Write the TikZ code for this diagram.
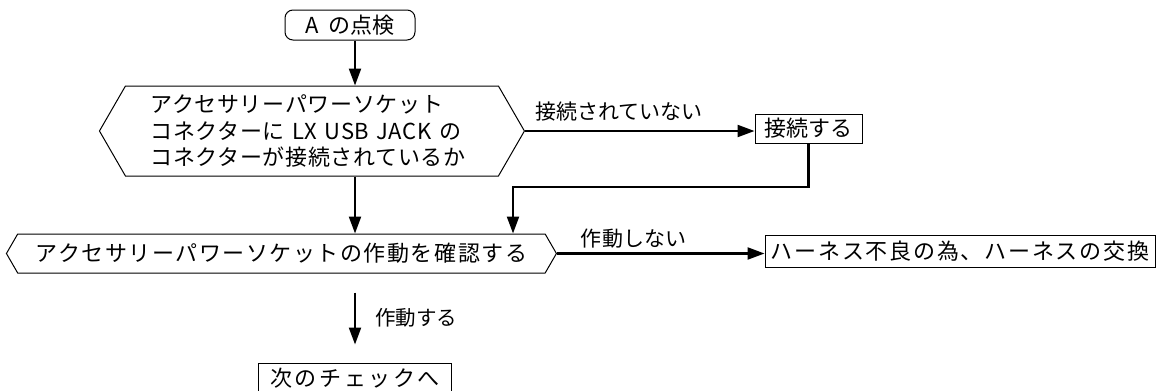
\documentclass[tikz,border=0pt]{standalone}
\usepackage{fontspec}
\newfontfamily\jpfont{Noto Sans CJK JP}
\usetikzlibrary{arrows.meta,shapes.symbols}
\def\jp#1#2{\jpfont\fontsize{#1}{26.5}\selectfont\addfontfeature{LetterSpace=#2}}
\tikzset{
	box/.style={draw, line width=1pt, inner sep=0pt},
	hexa/.style={signal, signal to=east and west, signal pointer angle=120, draw, line width=1pt, inner ysep=0pt},
	flow/.style={line width=2.2pt, -{Triangle[length=17pt,width=12pt]}},
}

\begin{document}
\begin{tikzpicture}[x=1pt,y=-1pt]
			%%%%% START %%%%%
			\useasboundingbox (0,0) rectangle (1160,391);
			
			\node[box, rounded corners=8pt, minimum width=130pt, minimum height=30pt, font=\jp{22}{0}] (start) at (350,25) {A\hspace{9pt}の点検};
			\node[hexa, anchor=east, text width=323pt, inner xsep=25pt, minimum height=90pt, align=left, font=\jp{22}{3}] (q1) at (525,131) {アクセサリーパワーソケット\\コネクターに LX USB JACK の\\コネクターが接続されているか};
			\node[box, minimum width=107pt, minimum height=29pt, font=\jp{22}{0}] (fix) at (808.5,128.5) {接続する};
			\node[hexa, anchor=east, inner xsep=18pt, minimum height=39pt, font=\jp{22}{7}] (q2) at (557,253.5) {アクセサリーパワーソケットの作動を確認する};
			\node[box, minimum width=390pt, minimum height=32pt, font=\jp{22}{8}] (ng) at (960,251) {ハーネス不良の為、ハーネスの交換};
			\node[box, minimum width=193pt, minimum height=30pt, font=\jp{22}{12}] (next) at (355,378) {次のチェックへ};
			
			\coordinate (bend) at (513,187);
			
			\draw[flow] (start.south -| next) -- (q1.north -| next);
			\draw[flow] (q1.east) -- node[pos=0.41, above=5pt, font=\jp{21}{0}] (noconn) {接続されていない} (q1.east -| fix.west);
			\draw[flow] (fix.south) |- (bend) -- (bend |- q2.north);
			\draw[flow] (q1.south -| next) -- (q2.north -| next);
			\draw[flow] (q2.east) -- node[pos=0.37, above=1pt, font=\jp{21}{1}] (nowork) {作動しない} (q2.east -| ng.west);
			\draw[flow, shorten <=19pt, shorten >=18pt] (q2.south -| next) -- node[right=16pt, font=\jp{20.5}{0}] (works) {作動する} (next.north);
			
			%%%%% END %%%%%
\end{tikzpicture}
\end{document}
